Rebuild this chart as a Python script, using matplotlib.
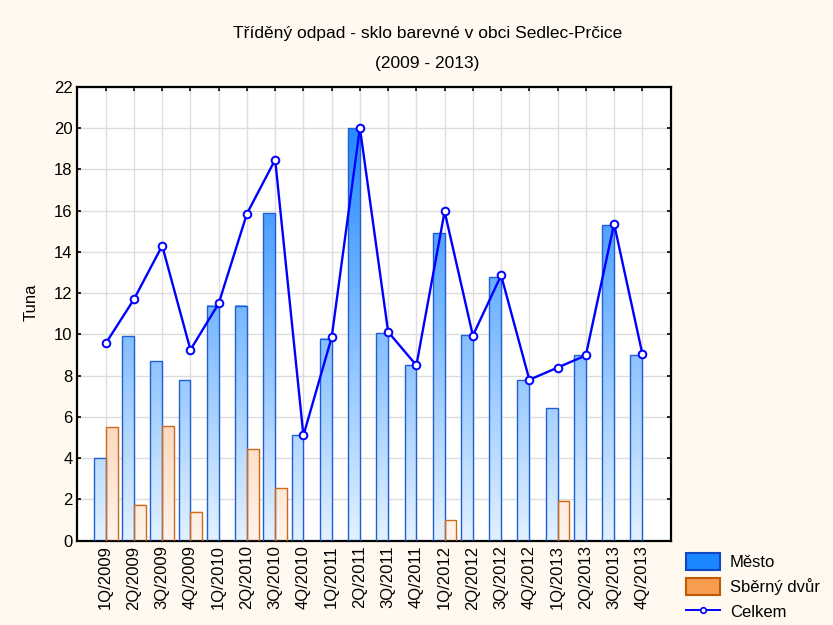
import numpy as np
import matplotlib
matplotlib.use('Agg')
from matplotlib import pyplot as plt
from matplotlib.colors import LinearSegmentedColormap, Normalize
from matplotlib.patches import Patch
from matplotlib.lines import Line2D

plt.rcParams['font.family'] = ['Liberation Sans', 'DejaVu Sans']

kvartaly = ['1Q/2009', '2Q/2009', '3Q/2009', '4Q/2009',
            '1Q/2010', '2Q/2010', '3Q/2010', '4Q/2010',
            '1Q/2011', '2Q/2011', '3Q/2011', '4Q/2011',
            '1Q/2012', '2Q/2012', '3Q/2012', '4Q/2012',
            '1Q/2013', '2Q/2013', '3Q/2013', '4Q/2013']
mesto = [4.0, 9.9, 8.7, 7.8, 11.4, 11.4, 15.9, 5.1, 9.8, 20.0,
         10.05, 8.5, 14.93, 9.95, 12.8, 7.8, 6.44, 8.98, 15.3, 9.0]
sberny = [5.5, 1.75, 5.57, 1.41, 0, 4.42, 2.54, 0, 0, 0,
          0, 0, 1.0, 0, 0, 0, 1.94, 0, 0, 0]
celkem = [9.56, 11.7, 14.3, 9.25, 11.5, 15.85, 18.47, 5.1, 9.85, 20.02,
          10.12, 8.5, 15.96, 9.94, 12.86, 7.8, 8.39, 8.98, 15.36, 9.06]

ymax = 22
bg = '#fff9ef'
cmap_m = LinearSegmentedColormap.from_list('m', ['#e2f1ff', '#1280ff'])
cmap_s = LinearSegmentedColormap.from_list('s', ['#fff4ec', '#f08a38'])
norm = Normalize(0, ymax)

fig = plt.figure(figsize=(8.33, 6.25), dpi=100, facecolor=bg)
ax = fig.add_axes([0.093, 0.135, 0.712, 0.726])
ax.set_facecolor('white')

x = np.arange(len(kvartaly))
w = 0.42


def grad_bar(x0, h, cmap, edge):
    if h <= 0:
        return
    grad = np.linspace(0, h, 200).reshape(-1, 1)
    ax.imshow(grad, cmap=cmap, norm=norm, aspect='auto', origin='lower',
              extent=(x0, x0 + w, 0, h), zorder=2, interpolation='bilinear')
    ax.bar(x0, h, width=w, align='edge', facecolor='none',
           edgecolor=edge, linewidth=1.0, zorder=3)


for i in range(len(x)):
    grad_bar(x[i] - w, mesto[i], cmap_m, '#1f5fd6')
    grad_bar(x[i], sberny[i], cmap_s, '#cc6a1e')

ax.plot(x, celkem, color='#0000ff', lw=1.7, marker='o', ms=5.5,
        mfc='white', mec='#0000ff', mew=1.4, zorder=4)

ax.set_xlim(-1, len(x))
ax.set_ylim(0, ymax)
ax.set_yticks(np.arange(0, ymax + 1, 2))
ax.set_xticks(x)
ax.set_xticklabels(kvartaly, rotation=90, fontsize=12)
ax.tick_params(axis='y', labelsize=12)
ax.tick_params(direction='in', length=3, width=1.2, top=True, right=True, color='black')
ax.grid(True, color='#dddddd', lw=1, zorder=0)
ax.set_axisbelow(True)
for s in ax.spines.values():
    s.set_linewidth(1.6)
ax.set_ylabel('Tuna', fontsize=12)
ax.yaxis.set_label_coords(-0.066, 0.525)

fig.text(0.513, 0.947, 'Tříděný odpad - sklo barevné v obci Sedlec-Prčice',
         ha='center', va='center', fontsize=12.5)
fig.text(0.513, 0.899, '(2009 - 2013)', ha='center', va='center', fontsize=12.5)

handles = [Patch(facecolor='#1a86ff', edgecolor='#1048c0', lw=1.5),
           Patch(facecolor='#f89c50', edgecolor='#c05a00', lw=1.5),
           Line2D([], [], color='#0000ff', lw=1.4, marker='o', ms=4,
                  mfc='white', mec='#0000ff', mew=1.2)]
fig.legend(handles, ['Město', 'Sběrný dvůr', 'Celkem'], loc='upper left',
           bbox_to_anchor=(0.824, 0.116), frameon=False, fontsize=12,
           handlelength=2.0, handleheight=1.2, labelspacing=0.48,
           borderaxespad=0, borderpad=0, handletextpad=0.6)

plt.savefig('out.png', dpi=100, facecolor=bg)
